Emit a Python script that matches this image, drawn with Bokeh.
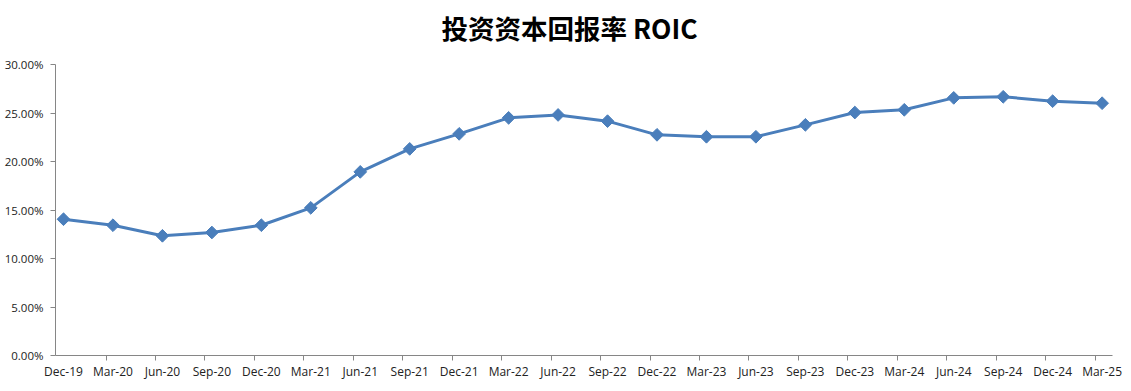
import math
from bokeh.plotting import figure
from bokeh.models import Range1d, FixedTicker, LinearAxis, NumeralTickFormatter, CustomJSTickFormatter
from bokeh.core.properties import value
from bokeh.embed import file_html
from bokeh.resources import INLINE

title_text = "投资资本回报率 ROIC"
categories = ["Dec-19", "Mar-20", "Jun-20", "Sep-20", "Dec-20", "Mar-21", "Jun-21", "Sep-21",
              "Dec-21", "Mar-22", "Jun-22", "Sep-22", "Dec-22", "Mar-23", "Jun-23", "Sep-23",
              "Dec-23", "Mar-24", "Jun-24", "Sep-24", "Dec-24", "Mar-25"]
roic = [0.1405, 0.1343, 0.1234, 0.1268, 0.1343, 0.1522, 0.1893, 0.2130, 0.2285, 0.2450,
        0.2480, 0.2416, 0.2275, 0.2255, 0.2255, 0.2378, 0.2505, 0.2533, 0.2656, 0.2667,
        0.2622, 0.2601]
y_ticks = [0.0, 0.05, 0.10, 0.15, 0.20, 0.25, 0.30]

xs = list(range(len(categories)))

# frame spans full height above the x axis; the y axis is bounded to 0..30%
W, H = 1131, 391
left, right, bottom = 55, 19, 36
frame_h = H - bottom               # 355 px
axis_top_px = 64                   # where 30% sits (from canvas top)
y_max = y_ticks[-1]
y_end = y_max * frame_h / (frame_h - axis_top_px)
x_start, x_end = -0.162, len(categories) - 0.79

p = figure(width=W, height=H, output_backend="svg", toolbar_location=None,
           x_range=Range1d(x_start, x_end), y_range=Range1d(0, y_end),
           x_axis_location=None, y_axis_location=None,
           min_border_left=left, min_border_right=right, min_border_bottom=bottom, min_border_top=0)
p.outline_line_color = None
p.xgrid.grid_line_color = None
p.ygrid.grid_line_color = None

axis_color = "#868686"
label_font = "Open Sans"

# y axis
yax = LinearAxis(ticker=FixedTicker(ticks=y_ticks), formatter=NumeralTickFormatter(format="0.00%"),
                 bounds=(0, y_max))
yax.axis_line_color = axis_color
yax.major_tick_line_color = axis_color
yax.major_tick_in = 0
yax.major_tick_out = 5
yax.minor_tick_line_color = None
yax.major_label_text_font = label_font
yax.major_label_text_font_size = "11.5px"
yax.major_label_text_color = "#222222"
yax.major_label_standoff = 7
p.add_layout(yax, "left")

# x axis line with tick marks between categories
xax = LinearAxis(ticker=FixedTicker(ticks=[i - 0.14 for i in range(1, len(categories))]),
                 formatter=CustomJSTickFormatter(code="return ''"))
xax.axis_line_color = axis_color
xax.major_tick_line_color = axis_color
xax.major_tick_in = 0
xax.major_tick_out = 5
xax.minor_tick_line_color = None
xax.major_label_text_font_size = "1px"
xax.major_label_standoff = 0
p.add_layout(xax, "below")

# x labels
xlab = LinearAxis(ticker=FixedTicker(ticks=xs),
                  major_label_overrides={i: c for i, c in enumerate(categories)})
xlab.axis_line_color = None
xlab.major_tick_line_color = None
xlab.minor_tick_line_color = None
xlab.major_tick_in = 0
xlab.major_tick_out = 0
xlab.major_label_text_font = label_font
xlab.major_label_text_font_size = "12px"
xlab.major_label_text_color = "#222222"
xlab.major_label_standoff = 2
p.add_layout(xlab, "below")

color = "#4A7EBB"
p.line(xs, roic, line_color=color, line_width=3)
p.scatter(xs, roic, marker="square", angle=math.pi / 4, size=9, fill_color=color, line_color=color)

# title drawn inside the (tall) frame, centred at canvas (569, 27)
frame_w = W - left - right
tx = x_start + (569 - left) / frame_w * (x_end - x_start)
ty = (frame_h - 27) / frame_h * y_end
p.text(x=[tx], y=[ty], text=[title_text], text_align="center", text_baseline="middle",
       text_font=value("Noto Sans CJK SC"), text_font_size="26.5px",
       text_font_style="bold", text_color="#000000")

open("out.html", "w").write(file_html(p, INLINE))
